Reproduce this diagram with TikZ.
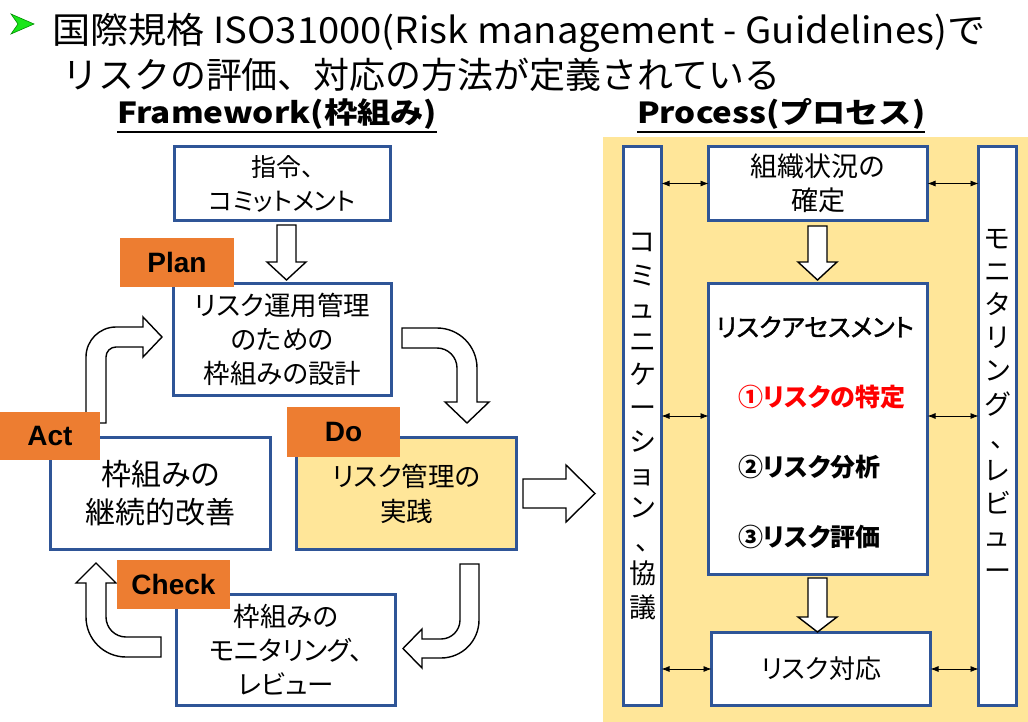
\documentclass[tikz,border=0pt]{standalone}
\usepackage{fontspec}
\usepackage{graphicx}
\setmainfont{Noto Sans CJK JP}
\newfontfamily\jp{Noto Sans CJK JP}[RawFeature=+palt]
\newfontfamily\jpsemi{Noto Sans CJK JP}[RawFeature=+palt, FakeBold=1.6]
\newfontfamily\lab{Liberation Sans}
\usetikzlibrary{arrows.meta}
\definecolor{boxblue}{HTML}{2F5597}
\definecolor{tagorange}{HTML}{ED7D31}
\definecolor{procyellow}{HTML}{FFE699}
\definecolor{bulletgreen}{HTML}{19E619}
\definecolor{riskred}{HTML}{FF0000}
\newcommand\fs[2]{\fontsize{#1}{#2}\selectfont}
% straight downward block arrow: centre x, top, head base, tip
\newcommand\blockdown[4]{%
  \draw[blk] (#1-9.5,#2) -- (#1+9.5,#2) -- (#1+9.5,#3) -- (#1+19.5,#3) -- (#1,#4)
    -- (#1-19.5,#3) -- (#1-9.5,#3) -- cycle;}
\begin{document}
\begin{tikzpicture}[x=1pt,y=-1pt,
  box/.style={draw=boxblue, line width=3pt, fill=white, inner sep=0pt, outer sep=0pt, align=center},
  tag/.style={fill=tagorange, inner sep=0pt, font=\lab\bfseries\fs{28}{30}},
  blk/.style={draw=black, line width=1.4pt, fill=white, line join=miter},
  link/.style={{Latex[length=8pt,width=6pt]}-{Latex[length=8pt,width=6pt]}, line width=0.8pt},
  vtext/.style={font=\jp\fs{27}{33.2}, align=center, inner sep=0pt}]
\useasboundingbox (0,0) rectangle (1028,722);

% ---- heading ----
\fill[bulletgreen] (11,14) -- (34,24) -- (11,34) -- (18,24) -- cycle;
\draw[green!55!black, line width=0.6pt] (11,14) -- (34,24) -- (11,34) -- (18,24) -- cycle;
\node[anchor=base west, inner sep=0pt, font=\fs{36}{40}] (t1) at (52,44)
  {\resizebox{933pt}{\height}{国際規格 ISO31000(Risk management - Guidelines)で}};
\node[anchor=base west, inner sep=0pt, font=\fs{36}{40}] (t2) at (62,89)
  {\resizebox{718pt}{\height}{リスクの評価、対応の方法が定義されている}};

\node[anchor=base west, inner sep=0pt, font=\bfseries\fs{29}{30}] (fw) at (117,124)
  {\resizebox{320pt}{\height}{Framework(枠組み)}};
\draw[line width=2pt] ([yshift=-8pt]fw.base west) -- ([yshift=-8pt]fw.base east);
\node[anchor=base west, inner sep=0pt, font=\bfseries\fs{29}{30}] (pr) at (637,124)
  {\resizebox{288pt}{\height}{Process(プロセス)}};
\draw[line width=2pt] ([yshift=-8pt]pr.base west) -- ([yshift=-8pt]pr.base east);

% ---- process panel background ----
\fill[procyellow] (603,137) rectangle (1028,722);

% ---- framework cycle arrows ----
\blockdown{286.5}{225}{262}{280}
% Act -> Plan
\draw[blk] (86,423) -- (86,357) arc[start angle=180, end angle=270, radius=30]
  -- (143,327) -- (143,317) -- (162,337) -- (143,357) -- (143,347) -- (116,347)
  arc[start angle=270, end angle=180, radius=10] -- (106,423) -- cycle;
% Plan -> Do
\draw[blk] (402,328) -- (437,328) arc[start angle=270, end angle=360, radius=40]
  -- (477,402) -- (489,402) -- (467,423) -- (445,402) -- (457,402) -- (457,368)
  arc[start angle=360, end angle=270, radius=20] -- (402,348) -- cycle;
% Do -> Check
\draw[blk] (460,564) -- (479,564) -- (479,620) arc[start angle=0, end angle=90, radius=38]
  -- (422,658) -- (422,668) -- (403,648.5) -- (422,629) -- (422,639) -- (441,639)
  arc[start angle=90, end angle=0, radius=19] -- cycle;
% Check -> Act
\draw[blk] (161,637) -- (161,657) -- (126,657) arc[start angle=90, end angle=180, radius=40]
  -- (86,583) -- (76,583) -- (96,563) -- (116,583) -- (106,583) -- (106,617)
  arc[start angle=180, end angle=90, radius=20] -- cycle;
% framework -> process
\draw[blk] (523,479) -- (566,479) -- (566,465) -- (595,493.5) -- (566,522) -- (566,508)
  -- (523,508) -- cycle;

% ---- framework boxes ----
\node[box, minimum width=216pt, minimum height=74pt, font=\jp\fs{25}{34}] (cmd) at (282.5,183.5)
  {指令、\\コミットメント};
\node[box, minimum width=218pt, minimum height=112pt, font=\jp\fs{26.5}{34}] (plan) at (282.5,339.5)
  {リスク運用管理\\のための\\枠組みの設計};
\node[box, minimum width=220pt, minimum height=112pt, font=\jp\fs{30}{38}] (act) at (160.5,493.5)
  {枠組みの\\継続的改善};
\node[box, fill=procyellow, minimum width=220pt, minimum height=112pt, font=\jp\fs{26.5}{35}] (do) at (406.5,493.5)
  {リスク管理の\\実践};
\node[box, minimum width=219pt, minimum height=111pt, font=\jp\fs{26.5}{34}] (check) at (286,650)
  {枠組みの\\モニタリング、\\レビュー};

\node[tag, minimum width=114pt, minimum height=49pt] (plantag) at (177,262.5) {Plan};
\node[tag, minimum width=100pt, minimum height=48pt] (acttag) at (50,436) {Act};
\node[tag, minimum width=113pt, minimum height=50pt] (dotag) at (343.5,432) {Do};
\node[tag, minimum width=113pt, minimum height=49pt] (checktag) at (173.5,584.5) {Check};

% ---- process boxes ----
\node[box, minimum width=38pt, minimum height=559pt] (comm) at (642.5,426) {};
\node[box, minimum width=38pt, minimum height=559pt] (mon) at (997.5,426) {};
\node[box, minimum width=219pt, minimum height=74pt, font=\jp\fs{27}{34}] (ctx) at (818,183.5)
  {組織状況の\\確定};
\node[box, minimum width=219pt, minimum height=291pt] (ra) at (818,429) {};
\node[box, minimum width=219pt, minimum height=73pt, font=\jp\fs{26}{30}] (treat) at (821,669)
  {リスク対応};

\blockdown{817.5}{226}{262}{280}
\blockdown{817.5}{578}{617}{632}

\node[font=\jpsemi\fs{25}{30}, inner sep=0pt] (ratitle) at (815,327) {リスクアセスメント};
\node[font=\jp\bfseries\fs{25}{30}, text=riskred, inner sep=0pt, anchor=west] (step1) at (738,397) {①リスクの特定};
\node[font=\jp\bfseries\fs{25}{30}, inner sep=0pt, anchor=west] (step2) at (738,467) {②リスク分析};
\node[font=\jp\bfseries\fs{25}{30}, inner sep=0pt, anchor=west] (step3) at (738,537) {③リスク評価};

\node[vtext] (commtxt) at (642.5,426.5)
  {コ\\ミ\\ュ\\ニ\\ケ\\ー\\シ\\ョ\\ン\\、\\協\\議};
\node[vtext] (montxt) at (997.5,404.5)
  {モ\\ニ\\タ\\リ\\ン\\グ\\、\\レ\\ビ\\ュ\\ー};

% ---- two-way links to the side bars ----
\coordinate (row2) at (818,416);
\draw[link] (comm.east |- ctx.west) -- (ctx.west);
\draw[link] (ctx.east) -- (mon.west |- ctx.east);
\draw[link] (comm.east |- row2) -- (ra.west |- row2);
\draw[link] (ra.east |- row2) -- (mon.west |- row2);
\draw[link] (comm.east |- treat.west) -- (treat.west);
\draw[link] (treat.east) -- (mon.west |- treat.east);
\end{tikzpicture}
\end{document}
